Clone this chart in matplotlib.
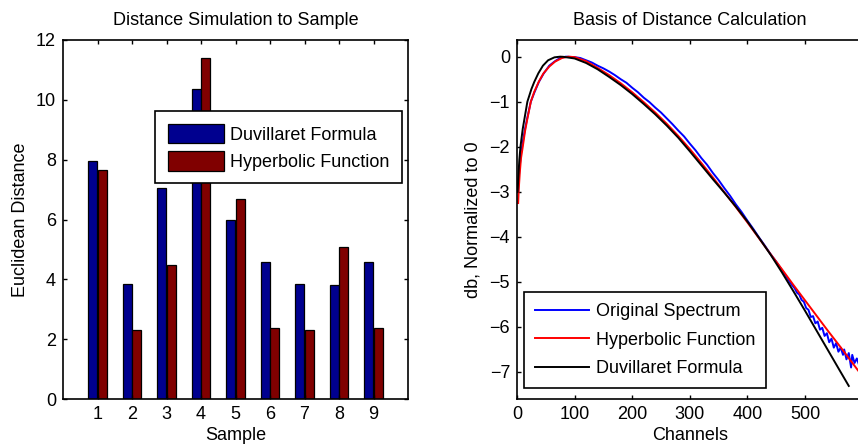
import numpy as np
import matplotlib.pyplot as plt

plt.rcParams['font.family'] = ['Liberation Sans', 'DejaVu Sans']
plt.rcParams['font.size'] = 13

# distances per sample
samples = [1, 2, 3, 4, 5, 6, 7, 8, 9]
dist_duvillaret = [7.96, 3.84, 7.06, 10.36, 6.00, 4.58, 3.84, 3.82, 4.58]
dist_hyperbolic = [7.67, 2.32, 4.47, 11.39, 6.69, 2.36, 2.32, 5.07, 2.36]

# normalized spectra (db) vs channel
chan_orig = [2, 3, 5, 7, 10, 14, 18, 24, 30, 38, 46, 56, 66, 76, 85, 100, 110, 120,
             130, 140, 150, 160, 170, 180, 190, 200, 210, 220, 230, 240, 250, 260,
             270, 280, 290, 300, 310, 320, 330, 340, 350, 360, 370, 380, 390, 400,
             410, 420, 430, 440, 450, 460, 470, 474, 478, 482, 486, 490, 494, 498,
             502, 506, 510, 514, 518, 522, 526, 530, 534, 538, 542, 546, 550, 554,
             558, 562, 566, 568, 572, 576, 580, 582, 586, 590, 594]
db_orig = [-3.0, -2.7, -2.4, -2.15, -1.9, -1.6, -1.35, -1.0, -0.8, -0.56, -0.38,
           -0.2, -0.1, -0.02, 0.0, -0.01, -0.03, -0.08, -0.13, -0.20, -0.26, -0.33,
           -0.41, -0.50, -0.58, -0.69, -0.79, -0.91, -1.01, -1.13, -1.24, -1.37,
           -1.50, -1.64, -1.77, -1.93, -2.08, -2.25, -2.40, -2.58, -2.74, -2.92,
           -3.09, -3.28, -3.45, -3.64, -3.82, -4.01, -4.19, -4.38, -4.55, -4.74,
           -4.93, -5.01, -5.08, -5.14, -5.24, -5.28, -5.40, -5.44, -5.58, -5.62,
           -5.78, -5.76, -5.92, -5.88, -6.06, -6.02, -6.20, -6.14, -6.34, -6.26,
           -6.46, -6.36, -6.55, -6.46, -6.62, -6.50, -6.72, -6.58, -6.90, -6.62,
           -6.80, -6.70, -6.85]

chan_hyp = [2, 3, 5, 7, 10, 14, 18, 24, 30, 38, 46, 56, 66, 78, 89, 100, 120, 140,
            160, 180, 200, 220, 240, 260, 280, 300, 320, 340, 360, 380, 400, 420,
            440, 460, 480, 500, 520, 540, 560, 580, 600]
db_hyp = [-3.25, -2.95, -2.55, -2.25, -2.0, -1.65, -1.38, -1.0, -0.78, -0.55, -0.37,
          -0.22, -0.11, -0.03, 0.0, -0.01, -0.10, -0.25, -0.41, -0.59, -0.79, -1.01,
          -1.24, -1.49, -1.76, -2.05, -2.36, -2.68, -3.01, -3.34, -3.68, -4.03,
          -4.38, -4.72, -5.07, -5.41, -5.75, -6.09, -6.42, -6.76, -7.10]

chan_duv = [1, 2, 4, 6, 10, 14, 18, 25, 30, 37, 45, 54, 65, 75, 80, 100, 120, 140,
            160, 180, 200, 220, 240, 260, 280, 300, 320, 340, 360, 380, 400, 420,
            440, 460, 480, 500, 520, 540, 560, 576]
db_duv = [-3.0, -2.75, -2.3, -2.0, -1.6, -1.3, -1.0, -0.72, -0.56, -0.37, -0.2,
          -0.08, -0.015, 0.0, -0.003, -0.04, -0.14, -0.28, -0.45, -0.63, -0.83,
          -1.05, -1.28, -1.53, -1.80, -2.10, -2.41, -2.72, -3.02, -3.33, -3.66,
          -4.02, -4.39, -4.79, -5.21, -5.64, -6.08, -6.52, -6.96, -7.31]

fig = plt.figure(figsize=(8.58, 4.45), dpi=100)
ax1 = fig.add_axes([63 / 858, 46 / 445, 345 / 858, 359 / 445])
ax2 = fig.add_axes([517 / 858, 46 / 445, 345.6 / 858, 359 / 445])

x = np.array(samples)
w = 0.27
ax1.bar(x - 0.14, dist_duvillaret, w, color='#00008f', edgecolor='black',
        linewidth=0.9, label='Duvillaret Formula')
ax1.bar(x + 0.14, dist_hyperbolic, w, color='#800000', edgecolor='black',
        linewidth=0.9, label='Hyperbolic Function')
ax1.set_xlim(0, 10)
ax1.set_ylim(0, 12)
ax1.set_xticks(samples)
ax1.set_yticks(range(0, 13, 2))
ax1.set_title('Distance Simulation to Sample', fontsize=13, pad=11)
ax1.set_xlabel('Sample', labelpad=3)
ax1.set_ylabel('Euclidean Distance', labelpad=5)
leg1 = ax1.legend(loc='upper right', bbox_to_anchor=(0.983, 0.802), borderaxespad=0,
                  fancybox=False, edgecolor='black', framealpha=1,
                  handlelength=3.1, handleheight=1.3, labelspacing=0.4,
                  handletextpad=0.35, borderpad=0.7)
leg1.get_frame().set_linewidth(1.2)

ax2.plot(chan_orig, db_orig, color='blue', lw=1.4, label='Original Spectrum')
ax2.plot(chan_hyp, db_hyp, color='red', lw=1.4, label='Hyperbolic Function')
ax2.plot(chan_duv, db_duv, color='black', lw=1.4, label='Duvillaret Formula')
ax2.set_xlim(0, 600)
ax2.set_ylim(-7.6, 0.37)
ax2.set_xticks(range(0, 501, 100))
ax2.set_yticks(range(-7, 1))
ax2.set_title('Basis of Distance Calculation', fontsize=13, pad=11)
ax2.set_xlabel('Channels', labelpad=3)
ax2.set_ylabel('db, Normalized to 0', labelpad=6)
leg2 = ax2.legend(loc='lower left', bbox_to_anchor=(0.021, 0.030), borderaxespad=0,
                  fancybox=False, edgecolor='black', framealpha=1,
                  handlelength=3.0, labelspacing=0.65, handletextpad=0.35,
                  borderpad=0.6)
leg2.get_frame().set_linewidth(1.2)

for ax in (ax1, ax2):
    ax.tick_params(direction='in', top=True, right=True, length=3, width=1, pad=5)
    for s in ax.spines.values():
        s.set_linewidth(1.2)

fig.savefig('out.png', dpi=100)
